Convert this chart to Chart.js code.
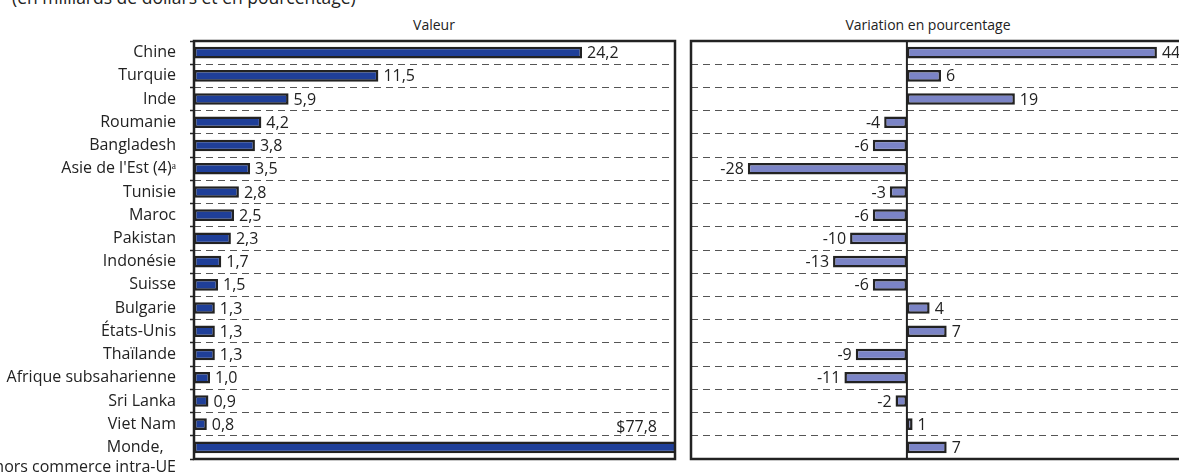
<!DOCTYPE html>
<html lang="fr">
<head>
<meta charset="utf-8">
<script src="https://cdn.jsdelivr.net/npm/chart.js@4"></script>
<style>
  body { margin: 0; width: 1179px; height: 475px; overflow: hidden; background: #fff; position: relative; font-family: "Open Sans", sans-serif; color: #222; }
  canvas { position: absolute; top: 0; }
  #gauche { left: 0; }
  #droite { left: 680px; }
  .txt { position: absolute; font-size: 14px; white-space: nowrap; line-height: 1; }
</style>
</head>
<body>
<div class="txt" style="left:12px; top:-11px; font-size:17.5px;">(en milliards de dollars et en pourcentage)</div>
<div class="txt" style="left:434px; top:18px; transform:translateX(-50%);">Valeur</div>
<div class="txt" style="left:928px; top:18px; transform:translateX(-50%);">Variation en pourcentage</div>
<canvas id="gauche" width="680" height="475"></canvas>
<canvas id="droite" width="520" height="475"></canvas>
<script>
// données
const pays = ["Chine", "Turquie", "Inde", "Roumanie", "Bangladesh", "Asie de l'Est (4)\u1D43",
  "Tunisie", "Maroc", "Pakistan", "Indonésie", "Suisse", "Bulgarie", "États-Unis", "Thaïlande",
  "Afrique subsaharienne", "Sri Lanka", "Viet Nam", ["", "Monde,   ", "hors commerce intra-UE"]];
const valeur = [24.2, 11.5, 5.9, 4.2, 3.8, 3.5, 2.8, 2.5, 2.3, 1.7, 1.5, 1.3, 1.3, 1.3, 1.0, 0.9, 0.8, 77.8];
const variation = [44, 6, 19, -4, -6, -28, -3, -6, -10, -13, -6, 4, 7, -9, -11, -2, 1, 7];

const police = { family: "Open Sans", size: 16, lineHeight: 1.25 };

// cadre autour de la zone + étiquettes des barres
const cadre = {
  id: "cadre",
  afterDatasetsDraw(chart, args, opts) {
    const ctx = chart.ctx;
    const a = chart.chartArea;
    ctx.save();
    if (opts.zero) {
      const x0 = chart.scales.x.getPixelForValue(0);
      ctx.strokeStyle = "#222";
      ctx.lineWidth = 2;
      ctx.beginPath();
      ctx.moveTo(x0, a.top);
      ctx.lineTo(x0, a.bottom);
      ctx.stroke();
    }
    ctx.strokeStyle = "#222";
    ctx.lineWidth = 2.5;
    ctx.strokeRect(a.left, a.top, a.right - a.left, a.bottom - a.top);

    ctx.font = "16px 'Open Sans'";
    ctx.fillStyle = "#222";
    ctx.textBaseline = "middle";
    const meta = chart.getDatasetMeta(0);
    const data = chart.data.datasets[0].data;
    meta.data.forEach((bar, i) => {
      const v = data[i];
      let txt = opts.virgule ? v.toFixed(1).replace(".", ",") : String(v);
      if (opts.total && i === data.length - 1) {
        ctx.textAlign = "right";
        ctx.fillText("$" + txt, a.right - 18, bar.y - 20);
        return;
      }
      if (v >= 0) {
        ctx.textAlign = "left";
        ctx.fillText(txt, bar.x + 5, bar.y + 1);
      } else {
        ctx.textAlign = "right";
        ctx.fillText(txt, bar.x - 4, bar.y + 1);
      }
    });
    ctx.restore();
  }
};

const grille = {
  color: "#555",
  lineWidth: 1,
  tickBorderDash: [],
  tickColor: "#222",
  tickWidth: 1.5
};

// pas de marge auto pour les libellés (Monde sur deux lignes)
function largeur(w) {
  return (s) => {
    s.width = w;
    s.paddingTop = 0;
    s.paddingBottom = 0;
  };
}

new Chart(document.getElementById("gauche"), {
  type: "bar",
  data: {
    labels: pays,
    datasets: [{
      data: valeur,
      backgroundColor: "#1f3f99",
      borderColor: "#222",
      borderWidth: 2.5,
      borderSkipped: false,
      barPercentage: 0.5,
      categoryPercentage: 1
    }]
  },
  options: {
    indexAxis: "y",
    responsive: false,
    animation: false,
    layout: { padding: { top: 41, right: 5, bottom: 16, left: 0 } },
    plugins: { legend: { display: false }, tooltip: { enabled: false }, cadre: { virgule: true, total: true } },
    scales: {
      x: { display: false, min: 0, max: 30 },
      y: {
        afterFit: largeur(194),
        border: { display: false, dash: [7, 5] },
        grid: { ...grille, tickLength: 4 },
        ticks: { color: "#222", font: police, padding: 14, autoSkip: false }
      }
    }
  },
  plugins: [cadre]
});

new Chart(document.getElementById("droite"), {
  type: "bar",
  data: {
    labels: pays,
    datasets: [{
      data: variation,
      backgroundColor: "#7b84c6",
      borderColor: "#222",
      borderWidth: 2.5,
      borderSkipped: false,
      barPercentage: 0.5,
      categoryPercentage: 1
    }]
  },
  options: {
    indexAxis: "y",
    responsive: false,
    animation: false,
    layout: { padding: { top: 41, right: 9, bottom: 16, left: 0 } },
    plugins: { legend: { display: false }, tooltip: { enabled: false }, cadre: { zero: true } },
    scales: {
      x: { display: false, min: -38, max: 50 },
      y: {
        afterFit: largeur(11),
        border: { display: false, dash: [7, 5] },
        grid: { ...grille, drawTicks: false },
        ticks: { display: false }
      }
    }
  },
  plugins: [cadre]
});
</script>
</body>
</html>
